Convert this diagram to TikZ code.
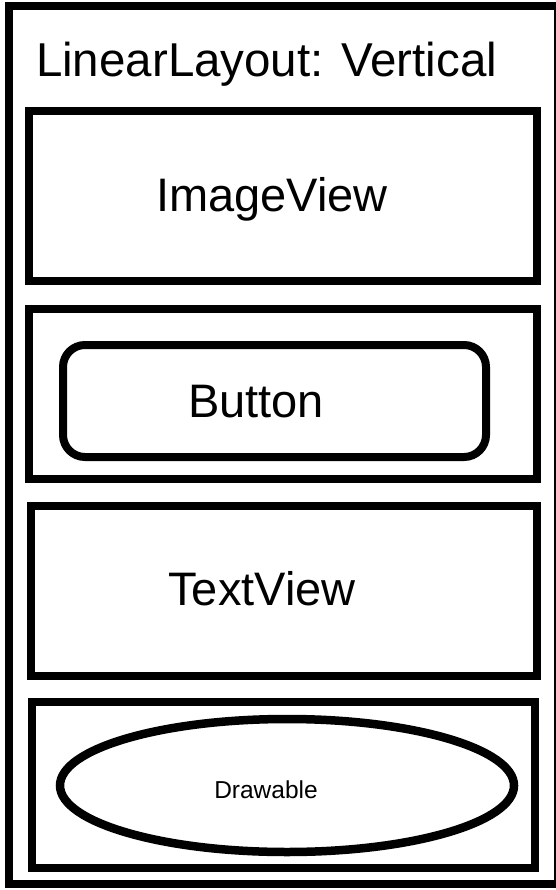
\documentclass[tikz,border=0pt]{standalone}
\usepackage{fontspec}
\setmainfont{Liberation Sans}
\usepackage{tikz}
\usetikzlibrary{shapes.geometric,positioning}

\begin{document}
\begin{tikzpicture}[
  x=1pt, y=-1pt,
  every node/.style={inner sep=0pt, outer sep=0pt},
  frame/.style={rectangle, draw, line width=8pt},
  widget/.style={rectangle, draw, line width=8pt, rounded corners=22pt},
  blob/.style={ellipse, draw, line width=8.5pt},
  big/.style={font=\fontsize{47}{52}\selectfont, anchor=base},
  small/.style={font=\fontsize{24.5}{28}\selectfont, anchor=base},
]
\useasboundingbox (0,0) rectangle (555,890);
\node[frame, minimum width=549, minimum height=877.5] (layout) at (283.5, 445.25) {};
\node[font=\fontsize{47.5}{52}\selectfont, anchor=base west] (title) at (36, 77) {LinearLayout: Vertical};
% the four children
\node[frame, minimum width=508, minimum height=170] (imgbox)  at (283, 196)   {};
\node[frame, minimum width=508, minimum height=170] (btnbox)  at (283, 394)   {};
\node[frame, minimum width=506, minimum height=170] (txtbox)  at (284, 591)   {};
\node[frame, minimum width=503, minimum height=166] (drawbox) at (283.5, 785) {};
\node[widget, minimum width=423, minimum height=112] (button) at (274.5, 401) {};
\node[blob, minimum width=454, minimum height=133]   (shape)  at (287, 785.5) {};
\node[big]   (imglabel)  at (272, 212) {ImageView};
\node[big]   (btnlabel)  at (256, 417) {Button};
\node[big]   (txtlabel)  at (262, 605) {TextView};
\node[small] (drawlabel) at (266, 798) {Drawable};
\end{tikzpicture}
\end{document}
